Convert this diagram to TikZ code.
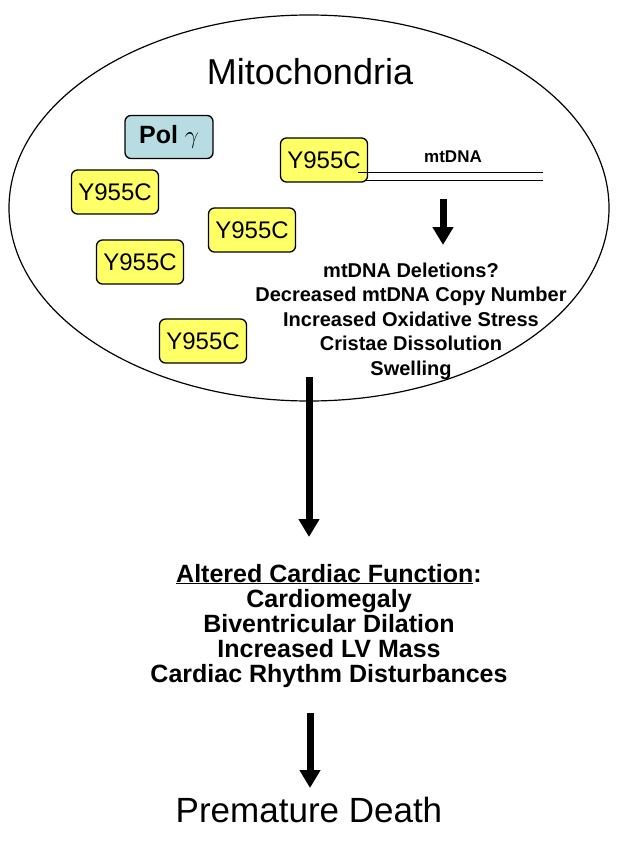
\documentclass[tikz,border=0pt]{standalone}
\usepackage{fontspec}
\setmainfont{Liberation Sans}
\usetikzlibrary{shapes.geometric,arrows.meta}
\definecolor{mutyellow}{RGB}{255,255,102}
\definecolor{polblue}{RGB}{183,221,226}
\tikzset{
  mutbox/.style={draw, rounded corners=6pt, line width=1.3pt, fill=mutyellow, minimum width=87pt, minimum height=44pt, inner sep=0pt, font=\fontsize{24}{28}\selectfont},
  polbox/.style={mutbox, fill=polblue, minimum width=88pt, minimum height=43pt, font=\fontsize{25}{28}\selectfont\bfseries},
  effect/.style={anchor=base, inner sep=0pt, font=\fontsize{20}{24}\selectfont\bfseries},
  outcome/.style={anchor=base, inner sep=0pt, font=\fontsize{25}{28}\selectfont\bfseries},
  bigarrow/.style={line width=7pt, -{Triangle[width=20pt,length=18pt]}}
}

\begin{document}
\begin{tikzpicture}[x=1pt, y=-1pt, line width=1pt]
  \useasboundingbox (0,0) rectangle (622,845);
  % Mitochondrion outline and title
  \node[draw, ellipse, line width=1.2pt, minimum width=600pt, minimum height=386pt, inner sep=0pt] (mito) at (309,208) {};
  \node[anchor=base, inner sep=0pt, font=\fontsize{36}{40}\selectfont] (title) at (310,85) {Mitochondria};
  % Polymerase and mutant subunits
  \node[polbox] (pol) at (169,137) {Pol \textnormal{$\gamma$}};
  \foreach \n/\x/\y in {1/115/192, 2/252/230, 3/140/262, 4/203/341, 5/324/160}{
    \node[mutbox] (y\n) at (\x,\y) {Y955C};
  }
  % mtDNA strands
  \coordinate (dnaA) at (358,173);
  \coordinate (dnaB) at (543,173);
  \coordinate (dnaC) at (365,181);
  \coordinate (dnaD) at (543,181);
  \draw (dnaA) -- (dnaB);
  \draw (dnaC) -- (dnaD);
  \node[effect, font=\fontsize{17}{20}\selectfont\bfseries] (dna) at (453,163) {mtDNA};
  % Effects on the mitochondrion
  \coordinate (s1) at (443,199);
  \coordinate (s2) at (443,245);
  \draw[bigarrow] (s1) -- (s2);
  \foreach \t [count=\i] in {mtDNA Deletions?, Decreased mtDNA Copy Number, Increased Oxidative Stress, Cristae Dissolution, Swelling}{
    \node[effect] (m\i) at (411,{277+24.5*(\i-1)}) {\t};
  }
  % Cardiac consequences
  \coordinate (c1) at (309,377);
  \coordinate (c2) at (309,537);
  \draw[bigarrow] (c1) -- (c2);
  \foreach \t [count=\i] in {\underline{Altered Cardiac Function}:, Cardiomegaly, Biventricular Dilation, Increased LV Mass, Cardiac Rhythm Disturbances}{
    \node[outcome] (h\i) at (329,{582+25*(\i-1)}) {\t};
  }
  % Final outcome
  \coordinate (d1) at (310,713);
  \coordinate (d2) at (310,788);
  \draw[bigarrow] (d1) -- (d2);
  \node[anchor=base, inner sep=0pt, font=\fontsize{35}{40}\selectfont] (death) at (309,822) {Premature Death};
\end{tikzpicture}
\end{document}
